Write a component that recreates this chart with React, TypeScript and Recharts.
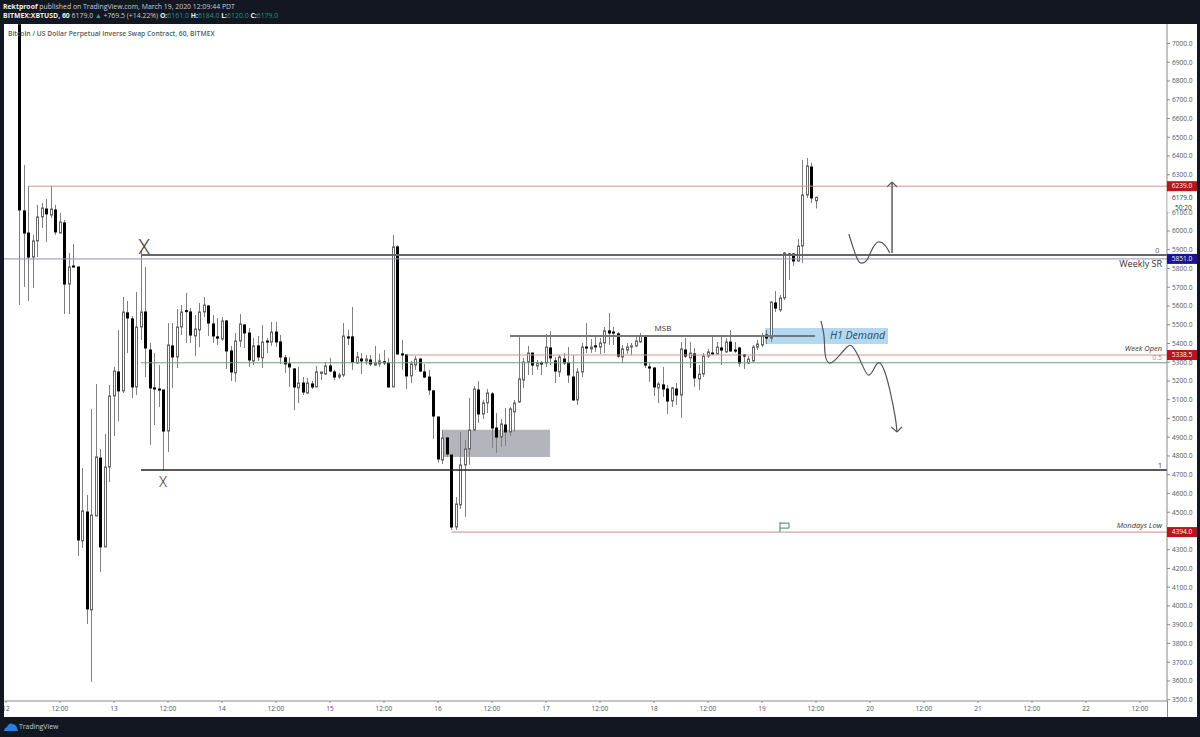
import { ComposedChart, Bar, Line, XAxis, YAxis, ReferenceLine, ReferenceArea, ReferenceDot } from 'recharts';

// hours since March 12 00:00, first candle is at hour 3
const firstHour = 3;

const opens = [
  7100, 6107, 5989, 5861, 5947, 6075, 6117, 6085, 6112, 5989,
  6043, 5717, 5813, 5808, 4347, 4501, 3979, 4480, 4789, 4315,
  4741, 5120, 5248, 5147, 5563, 5531, 5168, 5488, 5568, 5365,
  5163, 5157, 5152, 4933, 5387, 5328, 5488, 5575, 5568, 5440,
  5472, 5568, 5600, 5504, 5435, 5424, 5520, 5360, 5243, 5413,
  5499, 5456, 5307, 5387, 5323, 5413, 5408, 5461, 5408, 5323,
  5291, 5264, 5163, 5189, 5136, 5184, 5168, 5240, 5237, 5280,
  5248, 5221, 5232, 5435, 5435, 5296, 5317, 5307, 5312, 5285,
  5291, 5302, 5296, 5168, 5915, 5344, 5339, 5227, 5285, 5317,
  5248, 5221, 5147, 5008, 4779, 4896, 4805, 4421, 4539, 4752,
  4837, 4939, 5152, 5024, 5083, 5131, 4949, 4901, 4965, 4928,
  5035, 5088, 5205, 5301, 5349, 5280, 5296, 5296, 5376, 5307,
  5248, 5317, 5296, 5221, 5099, 5248, 5381, 5371, 5387, 5381,
  5403, 5467, 5461, 5451, 5328, 5365, 5381, 5387, 5408, 5435,
  5275, 5269, 5163, 5179, 5157, 5093, 5157, 5125, 5365, 5323,
  5344, 5211, 5237, 5333, 5349, 5344, 5376, 5355, 5408, 5365,
  5376, 5339, 5296, 5307, 5381, 5392, 5445, 5429, 5616, 5579,
  5643, 5877, 5877, 5840, 5920, 6192, 6341, 6161,
];
const closes = [
  6112, 5989, 5861, 5947, 6075, 6123, 6091, 6117, 5995, 6048,
  5717, 5808, 5808, 4352, 4507, 3984, 4485, 4795, 4315, 4741,
  5120, 5253, 5147, 5568, 5536, 5168, 5488, 5568, 5376, 5163,
  5157, 5152, 4933, 5392, 5328, 5488, 5568, 5571, 5445, 5477,
  5568, 5605, 5509, 5440, 5429, 5520, 5360, 5248, 5413, 5504,
  5456, 5312, 5387, 5328, 5408, 5408, 5461, 5408, 5328, 5291,
  5275, 5168, 5189, 5141, 5189, 5168, 5248, 5248, 5280, 5253,
  5221, 5232, 5440, 5429, 5301, 5328, 5307, 5317, 5291, 5296,
  5307, 5298, 5168, 5915, 5344, 5340, 5227, 5291, 5317, 5253,
  5221, 5152, 5013, 4784, 4896, 4811, 4421, 4544, 4752, 4837,
  4939, 5157, 5024, 5083, 5136, 4949, 4901, 4971, 4928, 5051,
  5083, 5211, 5301, 5349, 5285, 5296, 5292, 5381, 5323, 5253,
  5328, 5296, 5232, 5099, 5248, 5381, 5376, 5381, 5383, 5403,
  5467, 5456, 5456, 5333, 5371, 5381, 5387, 5413, 5440, 5285,
  5269, 5168, 5184, 5157, 5093, 5163, 5125, 5371, 5333, 5349,
  5216, 5237, 5333, 5355, 5344, 5381, 5365, 5408, 5360, 5360,
  5296, 5333, 5317, 5381, 5397, 5440, 5429, 5621, 5589, 5643,
  5883, 5873, 5840, 5920, 6192, 6347, 6176, 6179,
];
const highs = [
  7100, 6352, 6240, 5979, 6139, 6149, 6171, 6240, 6139, 6096,
  6059, 5883, 5931, 5808, 4736, 4592, 5051, 5184, 4837, 4917,
  5179, 5275, 5472, 5648, 5627, 5547, 5675, 5899, 5808, 5403,
  5349, 5285, 5152, 5509, 5509, 5584, 5605, 5669, 5589, 5552,
  5616, 5648, 5605, 5552, 5536, 5541, 5525, 5387, 5456, 5557,
  5499, 5483, 5429, 5440, 5499, 5429, 5515, 5515, 5445, 5339,
  5328, 5269, 5275, 5221, 5216, 5200, 5280, 5248, 5301, 5323,
  5259, 5243, 5509, 5472, 5595, 5355, 5349, 5339, 5339, 5387,
  5344, 5365, 5323, 5979, 5925, 5419, 5344, 5307, 5333, 5323,
  5291, 5259, 5152, 5008, 4939, 4901, 4805, 4581, 4928, 4885,
  5109, 5173, 5200, 5099, 5157, 5141, 5029, 4997, 5056, 5061,
  5099, 5435, 5323, 5387, 5349, 5312, 5307, 5451, 5467, 5328,
  5339, 5349, 5381, 5339, 5269, 5403, 5509, 5424, 5445, 5429,
  5488, 5563, 5488, 5461, 5392, 5403, 5403, 5435, 5456, 5440,
  5296, 5275, 5195, 5275, 5179, 5168, 5189, 5408, 5429, 5408,
  5376, 5285, 5349, 5371, 5440, 5408, 5445, 5429, 5472, 5408,
  5381, 5344, 5333, 5392, 5419, 5456, 5472, 5627, 5680, 5659,
  5888, 5883, 5883, 5957, 6379, 6389, 6363, 6184,
];
const lows = [
  5605, 5701, 5627, 5696, 5861, 6016, 5941, 6069, 5979, 5989,
  5557, 5557, 5808, 4267, 4309, 3904, 3595, 4480, 4181, 4315,
  4661, 4907, 4987, 5136, 5349, 5109, 5125, 5419, 5221, 4859,
  4965, 5061, 4725, 4821, 5163, 5269, 5445, 5403, 5403, 5333,
  5381, 5541, 5440, 5403, 5392, 5413, 5264, 5200, 5195, 5381,
  5376, 5275, 5285, 5307, 5269, 5349, 5387, 5381, 5291, 5243,
  5168, 5045, 5083, 5125, 5131, 5157, 5168, 5205, 5232, 5248,
  5205, 5211, 5221, 5392, 5259, 5291, 5237, 5285, 5280, 5280,
  5275, 5285, 5163, 5168, 5339, 5259, 5157, 5189, 5259, 5248,
  5216, 5125, 4891, 4763, 4757, 4795, 4405, 4405, 4517, 4475,
  4752, 4933, 4976, 4997, 5029, 4843, 4816, 4848, 4853, 4907,
  4928, 5083, 5163, 5232, 5232, 5259, 5232, 5275, 5285, 5189,
  5221, 5285, 5189, 5093, 5072, 5221, 5349, 5349, 5355, 5344,
  5349, 5392, 5392, 5323, 5296, 5344, 5339, 5381, 5403, 5269,
  5195, 5120, 5083, 5115, 5024, 5061, 5072, 5003, 5323, 5269,
  5168, 5152, 5221, 5323, 5339, 5344, 5285, 5349, 5355, 5349,
  5275, 5264, 5291, 5301, 5365, 5381, 5397, 5408, 5568, 5568,
  5632, 5739, 5813, 5835, 5829, 6176, 6149, 6120,
];

// 4400 and 6200 sit under the price tags
const priceTicks = [
  3500, 3600, 3700, 3800, 3900, 4000, 4100, 4200, 4300, 4500, 4600, 4700, 4800, 4900, 5000, 5100, 5200,
  5300, 5400, 5500, 5600, 5700, 5800, 5900, 6000, 6100, 6300, 6400, 6500, 6600, 6700, 6800, 6900, 7000,
];
const timeTicks = [0, 12, 24, 36, 48, 60, 72, 84, 96, 108, 120, 132, 144, 156, 168, 180, 192, 204, 216, 228, 240, 252];
const timeLabels = ['12', '12:00', '13', '12:00', '14', '12:00', '15', '12:00', '16', '12:00', '17', '12:00', '18', '12:00', '19', '12:00', '20', '12:00', '21', '12:00', '22', '12:00'];

// hand drawn projections on the right
const upperPathHours = [187.3, 188.2, 189.3, 190.2, 191.3, 192.4, 193.8, 195.3, 196.4];
const upperPathPrices = [5984, 5915, 5845, 5829, 5845, 5899, 5941, 5925, 5883];
const lowerPathHours = [181.1, 181.8, 182, 182.9, 184.7, 186.9, 188.2, 189.8, 191.6, 193.1, 194.2, 195.3, 196.4, 197.6, 198];
const lowerPathPrices = [5520, 5435, 5349, 5296, 5323, 5381, 5381, 5312, 5232, 5275, 5296, 5248, 5152, 5008, 4928];

const candles = opens.map((open, i) => ({
  hour: firstHour + i,
  open,
  close: closes[i],
  high: highs[i],
  low: lows[i],
  range: [lows[i], highs[i]],
}));

const toPath = (hours: number[], prices: number[]) => hours.map((hour, i) => ({ hour, price: prices[i] }));

const Candle = (props: any) => {
  const { x, y, width, height, payload } = props;
  const cx = Math.round(x + width / 2);
  const perUnit = Math.abs(height) / (payload.high - payload.low);
  const yOf = (price: number) => y + (payload.high - price) * perUnit;
  const top = yOf(Math.max(payload.open, payload.close));
  const bottom = yOf(Math.min(payload.open, payload.close));
  const down = payload.close < payload.open;
  return (
    <g>
      <line x1={cx + 0.5} x2={cx + 0.5} y1={y} y2={y + Math.abs(height)} stroke="#808080" strokeWidth={1} />
      <rect
        x={cx - 0.5}
        y={top}
        width={2}
        height={Math.max(bottom - top, 1)}
        fill={down ? '#000000' : '#ffffff'}
        stroke={down ? '#000000' : '#666666'}
        strokeWidth={1}
      />
    </g>
  );
};

const axisFont = '"Open Sans", sans-serif';

const note = (text: string, anchor: string, size: number, color: string, italic = false, weight = 400, family = axisFont) => (props: any) => (
  <text
    x={props.cx}
    y={props.cy}
    textAnchor={anchor as any}
    dominantBaseline="middle"
    fontFamily={family}
    fontSize={size}
    fontStyle={italic ? 'italic' : 'normal'}
    fontWeight={weight}
    fill={color}
  >
    {text}
  </text>
);

const priceTag = (text: string, bg: string) => (props: any) => (
  <g>
    <rect x={props.cx} y={props.cy - 5} width={30} height={10} fill={bg} />
    <text x={props.cx + 15} y={props.cy + 0.5} textAnchor="middle" dominantBaseline="middle" fontFamily={axisFont} fontSize={6.6} fill="#f2f2f2">
      {text}
    </text>
  </g>
);

const lastPriceTag = (props: any) => (
  <g>
    <rect x={props.cx + 0.5} y={props.cy - 5} width={29} height={20} fill="#ffffff" />
    <text x={props.cx + 5} y={props.cy + 0.5} dominantBaseline="middle" fontFamily={axisFont} fontSize={6.6} fill="#333333">
      6179.0
    </text>
    <text x={props.cx + 8} y={props.cy + 10.5} dominantBaseline="middle" fontFamily={axisFont} fontSize={6.6} fill="#333333">
      50:20
    </text>
  </g>
);

const flagMark = (props: any) => (
  <g fill="none" stroke="#3f8a55" strokeWidth={1}>
    <line x1={props.cx} x2={props.cx} y1={props.cy - 10} y2={props.cy} />
    <path d={`M${props.cx} ${props.cy - 9} h9 v5 h-9`} />
  </g>
);

const arrowStyle = { stroke: '#555555', strokeWidth: 1.2 };

export default function App() {
  return (
    <div style={{ position: 'absolute', left: 0, top: 0, width: 1200, height: 737, background: '#131722', overflow: 'hidden' }}>
      <div style={{ position: 'absolute', left: 4, top: 24, width: 1193, height: 693, background: '#ffffff' }} />
      <div style={{ position: 'absolute', left: 0, top: 0 }}>
        <ComposedChart width={1200} height={737} data={candles} margin={{ top: 24, right: 0, bottom: 0, left: 4 }}>
          <XAxis
            xAxisId={0}
            dataKey="hour"
            type="number"
            domain={[-0.44, 258]}
            ticks={timeTicks}
            tickFormatter={(v: number) => timeLabels[timeTicks.indexOf(v)]}
            height={36}
            stroke="#8a8a8a"
            tickSize={2}
            tickMargin={3}
            interval={0}
            tick={{ fontFamily: axisFont, fontSize: 6.6, fill: '#555555' }}
            allowDataOverflow
          />
          <YAxis
            yAxisId={0}
            orientation="right"
            type="number"
            domain={[3493, 7104]}
            ticks={priceTicks}
            tickFormatter={(v: number) => v.toFixed(1)}
            width={33}
            stroke="#8a8a8a"
            tickSize={3}
            tickMargin={2}
            interval={0}
            tick={{ fontFamily: axisFont, fontSize: 6.6, fill: '#555555' }}
            allowDataOverflow
          />

          <ReferenceArea x1={96.9} x2={120.9} y1={4795} y2={4940} fill="#b4b4bc" fillOpacity={1} stroke="none" />
          <ReferenceArea x1={168.7} x2={196} y1={5397} y2={5483} fill="#b3d8f2" fillOpacity={1} stroke="none" />

          <ReferenceLine y={5851} stroke="#8f8bc9" strokeWidth={1} />
          <ReferenceLine segment={[{ x: 5, y: 6239 }, { x: 258, y: 6239 }]} stroke="#cf9492" strokeWidth={1} />
          <ReferenceLine segment={[{ x: 30, y: 5872 }, { x: 258, y: 5872 }]} stroke="#666666" strokeWidth={2} />
          <ReferenceLine segment={[{ x: 30, y: 4725 }, { x: 258, y: 4725 }]} stroke="#222222" strokeWidth={1.5} />
          <ReferenceLine segment={[{ x: 30, y: 5297 }, { x: 258, y: 5297 }]} stroke="#6f9c7c" strokeWidth={1} />
          <ReferenceLine segment={[{ x: 89, y: 5338.5 }, { x: 258, y: 5338.5 }]} stroke="#cf9492" strokeWidth={1} />
          <ReferenceLine segment={[{ x: 99, y: 4394 }, { x: 258, y: 4394 }]} stroke="#cf8a88" strokeWidth={1} />
          <ReferenceLine segment={[{ x: 112, y: 5440 }, { x: 179.8, y: 5440 }]} stroke="#777777" strokeWidth={2} />

          <Bar dataKey="range" shape={Candle} barSize={4} isAnimationActive={false} />

          <Line data={toPath(upperPathHours, upperPathPrices)} dataKey="price" type="natural" stroke="#555555" strokeWidth={1.2} dot={false} legendType="none" isAnimationActive={false} />
          <Line data={toPath(lowerPathHours, lowerPathPrices)} dataKey="price" type="natural" stroke="#555555" strokeWidth={1.2} dot={false} legendType="none" isAnimationActive={false} />

          <ReferenceLine segment={[{ x: 196.9, y: 5883 }, { x: 196.9, y: 6261 }]} stroke="#666666" strokeWidth={1.6} />
          <ReferenceLine segment={[{ x: 195.8, y: 6235 }, { x: 196.9, y: 6261 }]} {...arrowStyle} />
          <ReferenceLine segment={[{ x: 198, y: 6235 }, { x: 196.9, y: 6261 }]} {...arrowStyle} />
          <ReferenceLine segment={[{ x: 196.7, y: 4955 }, { x: 198, y: 4928 }]} {...arrowStyle} />
          <ReferenceLine segment={[{ x: 199.1, y: 4955 }, { x: 198, y: 4928 }]} {...arrowStyle} />

          <ReferenceDot x={30.7} y={5908} shape={note('X', 'middle', 20, '#444444', false, 300, 'Roboto, sans-serif')} />
          <ReferenceDot x={34.9} y={4655} shape={note('X', 'middle', 14, '#444444', false, 300, 'Roboto, sans-serif')} />
          <ReferenceDot x={146} y={5476} shape={note('MSB', 'middle', 8, '#333333')} />
          <ReferenceDot x={183.1} y={5440} shape={note('H1 Demand', 'start', 10.5, '#2c4a5e', true)} />
          <ReferenceDot x={256.3} y={5893} shape={note('0', 'end', 7, '#555555')} />
          <ReferenceDot x={256.9} y={5819} shape={note('Weekly SR', 'end', 9, '#333333', false, 500)} />
          <ReferenceDot x={256.9} y={5370} shape={note('Week Open', 'end', 7.5, '#333333', true)} />
          <ReferenceDot x={256.9} y={5322} shape={note('0.5', 'end', 7, '#8a9a8a')} />
          <ReferenceDot x={256.9} y={4748} shape={note('1', 'end', 7, '#333333')} />
          <ReferenceDot x={256.9} y={4428} shape={note('Mondays Low', 'end', 7.5, '#333333', true)} />
          <ReferenceDot x={172} y={4394} shape={flagMark} />

          <ReferenceDot x={258} y={6179} ifOverflow="visible" shape={lastPriceTag} />
          <ReferenceDot x={258} y={6239} ifOverflow="visible" shape={priceTag('6239.0', '#b5161c')} />
          <ReferenceDot x={258} y={5851} ifOverflow="visible" shape={priceTag('5851.0', '#1b1690')} />
          <ReferenceDot x={258} y={5338.5} ifOverflow="visible" shape={priceTag('5338.5', '#b5161c')} />
          <ReferenceDot x={258} y={4394} ifOverflow="visible" shape={priceTag('4394.0', '#b5161c')} />
        </ComposedChart>
      </div>

      <div style={{ position: 'absolute', left: 0, top: 0, width: 1200, height: 24, background: '#131722', fontFamily: axisFont, fontSize: 6.9, lineHeight: '9px', color: '#c8cbd2', whiteSpace: 'nowrap' }}>
        <div style={{ position: 'absolute', left: 3, top: 2 }}>
          <b style={{ color: '#f0f0f0' }}>Rektproof</b> published on TradingView.com, March 19, 2020 12:09:44 PDT
        </div>
        <div style={{ position: 'absolute', left: 3, top: 11 }}>
          <b style={{ color: '#f0f0f0' }}>BITMEX:XBTUSD, 60</b> 6179.0 <span style={{ color: '#2e9e8f' }}>▲</span> +769.5 (+14.22%){' '}
          <b style={{ color: '#f0f0f0' }}>O:</b><span style={{ color: '#2e8f80' }}>6161.0</span>{' '}
          <b style={{ color: '#f0f0f0' }}>H:</b><span style={{ color: '#2e8f80' }}>6184.0</span>{' '}
          <b style={{ color: '#f0f0f0' }}>L:</b><span style={{ color: '#2e8f80' }}>6120.0</span>{' '}
          <b style={{ color: '#f0f0f0' }}>C:</b><span style={{ color: '#2e8f80' }}>6179.0</span>
        </div>
      </div>
      <div style={{ position: 'absolute', left: 0, top: 24, width: 4, height: 713, background: '#131722' }} />
      <div style={{ position: 'absolute', left: 1197, top: 24, width: 3, height: 713, background: '#131722' }} />
      <div style={{ position: 'absolute', left: 1167, top: 701, width: 1, height: 16, background: '#8a8a8a' }} />
      <div style={{ position: 'absolute', left: 8, top: 29, fontFamily: axisFont, fontSize: 6.75, fontWeight: 600, color: '#555a66', whiteSpace: 'nowrap' }}>
        Bitcoin / US Dollar Perpetual Inverse Swap Contract, 60, BITMEX
      </div>
      <div style={{ position: 'absolute', left: 0, top: 717, width: 1200, height: 20, background: '#131722' }}>
        <svg width={16} height={12} style={{ position: 'absolute', left: 3, top: 4 }}>
          <path d="M1 10 Q1 7 4 6 Q6 1 10 3 Q14 4 15 10 Z" fill="#2a7fd6" />
        </svg>
        <div style={{ position: 'absolute', left: 19, top: 5, fontFamily: axisFont, fontSize: 6.9, color: '#c8cbd2' }}>TradingView</div>
      </div>
    </div>
  );
}
